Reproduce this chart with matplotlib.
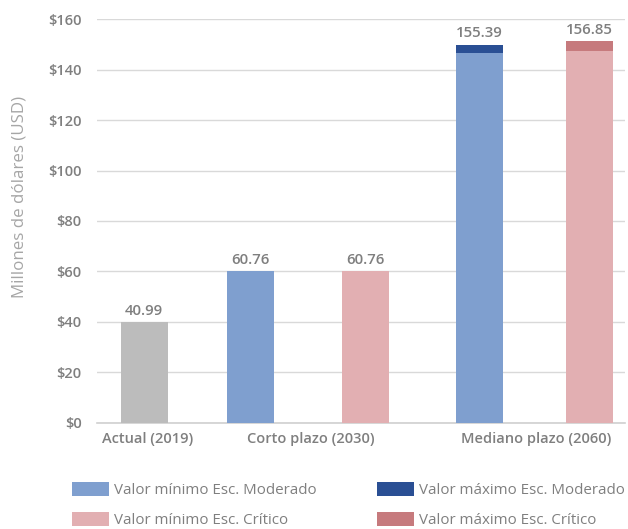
import matplotlib
matplotlib.use("Agg")
import matplotlib.pyplot as plt
from matplotlib.patches import Rectangle

# ---- data ----
categories = ["Actual (2019)", "Corto plazo (2030)", "Mediano plazo (2060)"]
actual_value = [40.0]
moderado_min = [60.0, 146.6]
moderado_max = [60.0, 150.0]
critico_min = [60.0, 147.6]
critico_max = [60.0, 151.5]
actual_label = ["40.99"]
moderado_labels = ["60.76", "155.39"]
critico_labels = ["60.76", "156.85"]
yticks = [0, 20, 40, 60, 80, 100, 120, 140, 160]
legend_labels = ["Valor mínimo Esc. Moderado", "Valor máximo Esc. Moderado",
                 "Valor mínimo Esc. Crítico", "Valor máximo Esc. Crítico"]

# ---- style ----
C_GRAY = "#bcbcbc"
C_BLUE_L = "#7f9fcf"
C_BLUE_D = "#2a4f94"
C_PINK_L = "#e2afb2"
C_PINK_D = "#c67a7d"
TXT = "#7f7f7f"
plt.rcParams['font.family'] = ['Open Sans', 'DejaVu Sans']

W, H = 628, 529
fig = plt.figure(figsize=(W / 100, H / 100), dpi=100)
L, R, T, B = 97, 625, 19.3, 422.7
ax = fig.add_axes([L / W, 1 - B / H, (R - L) / W, (B - T) / H])

# bar layout (pixel offsets within the axes)
bw = 47
x_actual = [144.2 - L]
x_mod = [250.4 - L, 479.0 - L]
x_cri = [365.8 - L, 589.3 - L]
cat_x = [148 - L, 311 - L, 536 - L]

ax.bar(x_actual, actual_value, width=bw, color=C_GRAY, zorder=3)
ax.bar(x_mod, moderado_max, width=bw, color=C_BLUE_D, zorder=3)
ax.bar(x_mod, moderado_min, width=bw, color=C_BLUE_L, zorder=3)
ax.bar(x_cri, critico_max, width=bw, color=C_PINK_D, zorder=3)
ax.bar(x_cri, critico_min, width=bw, color=C_PINK_L, zorder=3)

lab_kw = dict(ha="center", va="bottom", color=TXT, fontsize=10.8, fontweight="semibold")
for x, v, s in zip(x_actual, actual_value, actual_label):
    ax.annotate(s, (x, v), xytext=(0, 3), textcoords="offset points", **lab_kw)
for x, v, s in zip(x_mod, moderado_max, moderado_labels):
    ax.annotate(s, (x, v), xytext=(0, 3), textcoords="offset points", **lab_kw)
for x, v, s in zip(x_cri, critico_max, critico_labels):
    ax.annotate(s, (x, v), xytext=(0, 3), textcoords="offset points", **lab_kw)

ax.set_xlim(0, R - L)
ax.set_ylim(0, 160)
ax.set_yticks(yticks)
ax.set_yticklabels([f"${t}" for t in yticks])
ax.set_xticks(cat_x)
ax.set_xticklabels(categories)
ax.tick_params(axis="both", length=0, colors=TXT, labelsize=10.5)
for lbl in ax.get_xticklabels() + ax.get_yticklabels():
    lbl.set_fontweight("semibold")
ax.tick_params(axis="y", pad=11)
ax.tick_params(axis="x", pad=7)
ax.grid(axis="y", color="#d9d9d9", lw=1, zorder=0)
for s in ["top", "right", "left"]:
    ax.spines[s].set_visible(False)
ax.spines["bottom"].set_color("#d0d0d0")
ax.spines["bottom"].set_linewidth(1.2)
ax.set_ylabel("Millones de dólares (USD)", color="#a6a6a6", fontsize=12.2)
ax.yaxis.set_label_coords(-(L - 20) / (R - L), (B - 197) / (B - T))
ax.yaxis.label.set_verticalalignment("center")

# ---- legend (manual layout) ----
leg_cols = [C_BLUE_L, C_BLUE_D, C_PINK_L, C_PINK_D]
pos = [(72, 482), (377, 482), (72, 512), (377, 512)]
for (px, py), c, t in zip(pos, leg_cols, legend_labels):
    fig.add_artist(Rectangle((px / W, 1 - (py + 14) / H), 37 / W, 14 / H,
                             transform=fig.transFigure, color=c, lw=0))
    fig.text((px + 42) / W, 1 - (py + 8.5) / H, t, ha="left", va="center",
             color=TXT, fontsize=10.9)

fig.savefig("out.png", dpi=100)
